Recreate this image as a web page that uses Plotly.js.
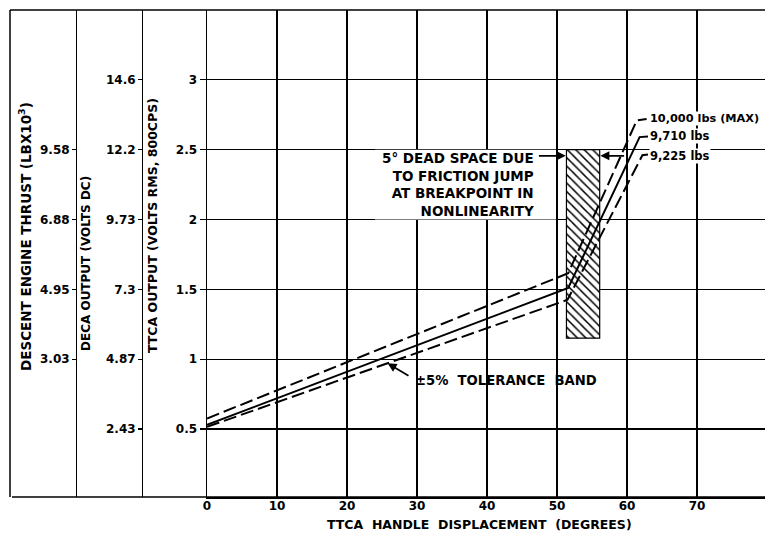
<!DOCTYPE html>
<html>
<head>
<meta charset="utf-8">
<script src="https://cdn.plot.ly/plotly-3.0.1.min.js"></script>
<style>
html,body{margin:0;padding:0;background:#fff;}
#chart{width:765px;height:533px;}
</style>
</head>
<body>
<div id="chart"></div>
<script>
// ---- data ----
const degreeTicks = [0, 10, 20, 30, 40, 50, 60, 70];
const ttcaTicks = [0.5, 1, 1.5, 2, 2.5, 3];
const ttcaLabels = ['0.5', '1', '1.5', '2', '2.5', '3'];
const decaLabels = ['2.43', '4.87', '7.3', '9.73', '12.2', '14.6'];
const thrustTicks = [1, 1.5, 2, 2.5];
const thrustLabels = ['3.03', '4.95', '6.88', '9.58'];

// nominal curve (9,710 lbs) and ±5% tolerance band
const nominalX = [0, 51.6, 61.8, 63.0];
const nominalY = [0.53, 1.51, 2.59, 2.595];
const upperX = [0, 51.6, 61.4, 62.8];
const upperY = [0.575, 1.615, 2.71, 2.72];
const lowerX = [0, 51.5, 62.2, 63.0];
const lowerY = [0.515, 1.425, 2.46, 2.465];

// dead space (friction jump) region
const deadX = [51.35, 56.1];
const deadY = [1.15, 2.5];

const curveLabels = ['10,000 lbs (MAX)', '9,710 lbs', '9,225 lbs'];

// ---- figure ----
const FONT = 'DejaVu Sans';
const bold = (s) => ({family: FONT, size: s, color: '#000', weight: 'bold'});

const traces = [
  {
    type: 'bar', x: [(deadX[0] + deadX[1]) / 2], y: [deadY[1] - deadY[0]], base: [deadY[0]],
    width: [deadX[1] - deadX[0]],
    marker: {color: '#fff', line: {color: '#000', width: 1.2},
      pattern: {shape: '\\', fgcolor: '#000', bgcolor: '#fff', size: 6, solidity: 0.25}},
    hoverinfo: 'skip', showlegend: false
  },
  {type: 'scatter', mode: 'lines', x: upperX, y: upperY,
   line: {color: '#000', width: 2, dash: '13px,5px'}, showlegend: false, hoverinfo: 'skip'},
  {type: 'scatter', mode: 'lines', x: lowerX, y: lowerY,
   line: {color: '#000', width: 2, dash: '13px,5px'}, showlegend: false, hoverinfo: 'skip'},
  {type: 'scatter', mode: 'lines', x: nominalX, y: nominalY,
   line: {color: '#000', width: 2}, showlegend: false, hoverinfo: 'skip'},
  // carriers for the secondary scales
  {type: 'scatter', mode: 'markers', x: [0], y: [ttcaTicks[0]], yaxis: 'y2',
   marker: {opacity: 0}, showlegend: false, hoverinfo: 'skip'},
  {type: 'scatter', mode: 'markers', x: [0], y: [thrustTicks[0]], yaxis: 'y3',
   marker: {opacity: 0}, showlegend: false, hoverinfo: 'skip'}
];

const W = 765, H = 533;
const L = 10, T = 10, B = 36;
const plotW = W - L, plotH = H - T - B;
const px = (p) => (p - L) / plotW;          // pixel -> paper x
const py = (p) => (H - B - p) / plotH;      // pixel -> paper y
const yRange = [0.013, 3.5];

const annotations = [
  {xref: 'paper', yref: 'paper', x: px(479), y: py(524), text: 'TTCA\u00a0\u00a0HANDLE\u00a0\u00a0DISPLACEMENT\u00a0\u00a0(DEGREES)',
   showarrow: false, font: bold(12.5), xanchor: 'center', yanchor: 'middle'},
  {xref: 'paper', yref: 'paper', x: px(25), y: py(237), text: 'DESCENT ENGINE THRUST (LBX10<sup>3</sup>)',
   textangle: -90, showarrow: false, font: bold(13.5), xanchor: 'center', yanchor: 'middle'},
  {xref: 'paper', yref: 'paper', x: px(86), y: py(264), text: 'DECA OUTPUT (VOLTS DC)',
   textangle: -90, showarrow: false, font: bold(12), xanchor: 'center', yanchor: 'middle'},
  {xref: 'paper', yref: 'paper', x: px(152), y: py(226), text: 'TTCA OUTPUT (VOLTS RMS, 800CPS)',
   textangle: -90, showarrow: false, font: bold(12.5), xanchor: 'center', yanchor: 'middle'},
  // dead space note
  {xref: 'x', yref: 'y', x: 47.0, y: 2.51, xanchor: 'right', yanchor: 'top', align: 'right',
   text: '5° DEAD SPACE DUE<br>TO FRICTION JUMP<br>AT BREAKPOINT IN<br>NONLINEARITY',
   showarrow: false, font: bold(13.5)},
  {xref: 'x', yref: 'y', axref: 'x', ayref: 'y', x: deadX[0] - 0.1, y: 2.456, ax: 47.2, ay: 2.456,
   text: '', showarrow: true, arrowhead: 2, arrowsize: 1, arrowwidth: 1.8, arrowcolor: '#000'},
  {xref: 'x', yref: 'y', axref: 'x', ayref: 'y', x: deadX[1] + 0.1, y: 2.456, ax: 59.8, ay: 2.456,
   text: '', showarrow: true, arrowhead: 2, arrowsize: 1, arrowwidth: 1.8, arrowcolor: '#000'},
  // tolerance band note
  {xref: 'x', yref: 'y', axref: 'x', ayref: 'y', x: 25.8, y: 0.97, ax: 29.0, ay: 0.875,
   text: '', showarrow: true, arrowhead: 2, arrowsize: 1, arrowwidth: 1.8, arrowcolor: '#000'},
  {xref: 'x', yref: 'y', x: 29.4, y: 0.85, xanchor: 'left', yanchor: 'middle',
   text: '±5%\u00a0\u00a0TOLERANCE\u00a0\u00a0BAND', showarrow: false, font: bold(13.2)},
  // curve labels
  {xref: 'x', yref: 'y', x: 63.2, y: upperY[3], xanchor: 'left', yanchor: 'middle',
   text: curveLabels[0], showarrow: false, font: bold(11.3), bgcolor: '#fff', borderpad: 0},
  {xref: 'x', yref: 'y', x: 63.2, y: nominalY[3], xanchor: 'left', yanchor: 'middle',
   text: curveLabels[1], showarrow: false, font: bold(11.5), bgcolor: '#fff', borderpad: 0},
  {xref: 'x', yref: 'y', x: 63.2, y: lowerY[3] - 0.01, xanchor: 'left', yanchor: 'middle',
   text: curveLabels[2], showarrow: false, font: bold(11.5), bgcolor: '#fff', borderpad: 0}
];

const shapes = [
  // blank box behind the note
  {type: 'rect', xref: 'x', yref: 'y', x0: 24, x1: 49.85, y0: 2.0, y1: 2.5,
   fillcolor: '#fff', line: {width: 0}, layer: 'between'},
  // frame
  {type: 'line', xref: 'paper', yref: 'paper', x0: 0, x1: 1, y0: 1, y1: 1, line: {color: '#000', width: 1.5}},
  {type: 'line', xref: 'paper', yref: 'paper', x0: 0, x1: 0, y0: 0, y1: 1, line: {color: '#000', width: 1.5}},
  {type: 'line', xref: 'paper', yref: 'paper', x0: px(12), x1: 1, y0: 0, y1: 0, line: {color: '#000', width: 1.5}}
];

const layout = {
  width: W, height: H,
  margin: {l: L, r: 0, t: T, b: B, pad: 0},
  paper_bgcolor: '#fff', plot_bgcolor: '#fff',
  showlegend: false,
  bargap: 0,
  xaxis: {
    domain: [px(207), 1], range: [0, (W - 207) / 7],
    tickmode: 'array', tickvals: degreeTicks, ticktext: degreeTicks.map(String),
    showgrid: true, gridcolor: '#000', gridwidth: 1.2,
    showline: true, linecolor: '#000', linewidth: 1.5,
    ticks: '', ticklabelstandoff: -3, zeroline: false, tickfont: bold(12), fixedrange: true
  },
  yaxis: {
    range: yRange, anchor: 'x',
    tickmode: 'array', tickvals: ttcaTicks, ticktext: ttcaLabels,
    showgrid: true, gridcolor: '#000', gridwidth: 1.2,
    showline: true, linecolor: '#000', linewidth: 1.5,
    ticks: 'outside', ticklen: 6, tickwidth: 1.2, tickcolor: '#000',
    zeroline: false, tickfont: bold(12), fixedrange: true
  },
  yaxis2: {
    range: yRange, overlaying: 'y', anchor: 'free', position: px(142), side: 'left',
    tickmode: 'array', tickvals: ttcaTicks, ticktext: decaLabels,
    showgrid: false, showline: true, linecolor: '#000', linewidth: 1.2,
    ticks: 'outside', ticklen: 4, tickwidth: 1.2, tickcolor: '#000',
    zeroline: false, tickfont: bold(12), fixedrange: true
  },
  yaxis3: {
    range: yRange, overlaying: 'y', anchor: 'free', position: px(76), side: 'left',
    tickmode: 'array', tickvals: thrustTicks, ticktext: thrustLabels,
    showgrid: false, showline: true, linecolor: '#000', linewidth: 1.2,
    ticks: 'outside', ticklen: 4, tickwidth: 1.2, tickcolor: '#000',
    zeroline: false, tickfont: bold(12), fixedrange: true
  },
  annotations: annotations,
  shapes: shapes
};

Plotly.newPlot('chart', traces, layout, {displayModeBar: false, staticPlot: true});
</script>
</body>
</html>
